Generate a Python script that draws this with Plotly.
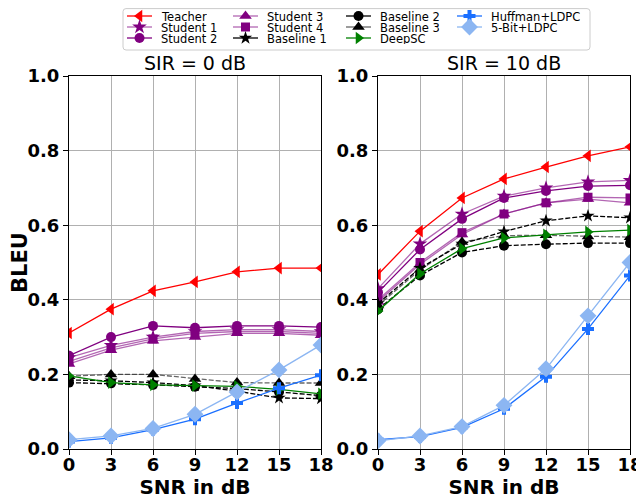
import plotly.graph_objects as go

# ---------------- data ----------------
snr = [0, 3, 6, 9, 12, 15, 18]
names = ["Teacher", "Student 1", "Student 2", "Student 3", "Student 4",
         "Baseline 1", "Baseline 2", "Baseline 3", "DeepSC",
         "Huffman+LDPC", "5-Bit+LDPC"]
x_ticks = [0, 3, 6, 9, 12, 15, 18]
y_ticks = [0.0, 0.2, 0.4, 0.6, 0.8, 1.0]
panel_titles = ["SIR = 0 dB", "SIR = 10 dB"]

# SIR = 0 dB
teacher_0 = [0.311, 0.375, 0.424, 0.448, 0.475, 0.485, 0.485]
student1_0 = [0.245, 0.278, 0.300, 0.315, 0.320, 0.320, 0.315]
student2_0 = [0.250, 0.300, 0.330, 0.325, 0.330, 0.330, 0.327]
student3_0 = [0.228, 0.265, 0.290, 0.300, 0.310, 0.310, 0.305]
student4_0 = [0.235, 0.271, 0.295, 0.310, 0.315, 0.315, 0.310]
baseline1_0 = [0.185, 0.183, 0.178, 0.170, 0.155, 0.137, 0.135]
baseline2_0 = [0.178, 0.176, 0.172, 0.167, 0.162, 0.153, 0.143]
baseline3_0 = [0.195, 0.200, 0.200, 0.188, 0.178, 0.177, 0.177]
deepsc_0 = [0.196, 0.178, 0.172, 0.170, 0.168, 0.160, 0.148]
huffman_0 = [0.020, 0.030, 0.052, 0.080, 0.123, 0.163, 0.198]
bit5_0 = [0.025, 0.035, 0.055, 0.093, 0.153, 0.212, 0.279]

# SIR = 10 dB
teacher_10 = [0.468, 0.584, 0.673, 0.724, 0.756, 0.786, 0.810]
student1_10 = [0.430, 0.550, 0.630, 0.678, 0.700, 0.716, 0.720]
student2_10 = [0.420, 0.535, 0.617, 0.673, 0.692, 0.705, 0.707]
student3_10 = [0.395, 0.495, 0.575, 0.630, 0.660, 0.670, 0.660]
student4_10 = [0.400, 0.500, 0.580, 0.630, 0.660, 0.675, 0.673]
baseline1_10 = [0.390, 0.485, 0.550, 0.583, 0.612, 0.625, 0.620]
baseline2_10 = [0.375, 0.465, 0.527, 0.545, 0.549, 0.552, 0.552]
baseline3_10 = [0.385, 0.480, 0.555, 0.572, 0.573, 0.570, 0.568]
deepsc_10 = [0.370, 0.470, 0.537, 0.566, 0.574, 0.582, 0.587]
huffman_10 = [0.025, 0.033, 0.058, 0.108, 0.194, 0.322, 0.465]
bit5_10 = [0.022, 0.035, 0.060, 0.117, 0.215, 0.357, 0.500]

series_0 = [teacher_0, student1_0, student2_0, student3_0, student4_0,
            baseline1_0, baseline2_0, baseline3_0, deepsc_0, huffman_0, bit5_0]
series_10 = [teacher_10, student1_10, student2_10, student3_10, student4_10,
             baseline1_10, baseline2_10, baseline3_10, deepsc_10, huffman_10, bit5_10]

# ---------------- styles ----------------
PURPLE = "#800080"
styles = {
    "Teacher":      dict(mc="#ff0000", lc="#ff0000", sym="triangle-left", ms=11, dash="solid"),
    "Student 1":    dict(mc=PURPLE, lc="rgba(128,0,128,0.6)", sym="star", ms=11, dash="solid"),
    "Student 2":    dict(mc=PURPLE, lc=PURPLE, sym="circle", ms=10, dash="solid"),
    "Student 3":    dict(mc=PURPLE, lc="rgba(128,0,128,0.6)", sym="triangle-up", ms=11, dash="solid"),
    "Student 4":    dict(mc=PURPLE, lc="rgba(128,0,128,0.6)", sym="square", ms=9, dash="solid"),
    "Baseline 1":   dict(mc="#000000", lc="#000000", sym="star", ms=10, dash="5px,2px"),
    "Baseline 2":   dict(mc="#000000", lc="#000000", sym="circle", ms=10, dash="5px,2px"),
    "Baseline 3":   dict(mc="#000000", lc="rgba(0,0,0,0.6)", sym="triangle-up", ms=11, dash="5px,2px"),
    "DeepSC":       dict(mc="#008000", lc="#008000", sym="triangle-right", ms=11, dash="solid"),
    "Huffman+LDPC": dict(mc="#1a6fff", lc="#1a6fff", sym="cross", ms=10, dash="solid"),
    "5-Bit+LDPC":   dict(mc="#8cb6f2", lc="#8cb6f2", sym="diamond", ms=13, dash="solid"),
}

FONT = "DejaVu Sans"
W, H = 644, 499
# figure is drawn 8px right/down of the page origin (body margin)
ML, MR, MT, MB = 61, 22, 0, 58
pw = W - ML - MR
ph = H - MT - MB
left_dom = [0, (313 - ML) / pw]
right_dom = [(370 - ML) / pw, 1]
plot_top = (H - MB - 68) / ph
leg_bottom_px = 46
leg_dom = [(H - MB - leg_bottom_px) / ph, 1]

fig = go.Figure()

for series, xa, ya in [(series_0, "x", "y"), (series_10, "x2", "y2")]:
    for name, vals in zip(names, series):
        s = styles[name]
        fig.add_trace(go.Scatter(
            x=snr, y=vals, mode="lines+markers", name=name, showlegend=False,
            xaxis=xa, yaxis=ya,
            line=dict(color=s["lc"], width=1.3, dash=s["dash"]),
            marker=dict(color=s["mc"], symbol=s["sym"], size=s["ms"], line=dict(width=0)),
        ))

# ---------------- manual legend (in pixel-like legend axis) ----------------
col_x = [119, 225, 338, 449]
row_y = [8, 19, 30]
key_len = 25
for i, name in enumerate(names):
    s = styles[name]
    cx = col_x[i // 3]
    ry = row_y[i % 3]
    fig.add_trace(go.Scatter(
        x=[cx, cx + key_len], y=[ry, ry], mode="lines", showlegend=False,
        xaxis="x3", yaxis="y3", hoverinfo="skip", cliponaxis=False,
        line=dict(color=s["lc"], width=1.3),
    ))
    fig.add_trace(go.Scatter(
        x=[cx + key_len / 2], y=[ry], mode="markers", showlegend=False,
        xaxis="x3", yaxis="y3", hoverinfo="skip", cliponaxis=False,
        marker=dict(color=s["mc"], symbol=s["sym"], size=s["ms"], line=dict(width=0)),
    ))
    fig.add_annotation(
        x=cx + key_len + 8, y=ry, xref="x3", yref="y3", text=name, showarrow=False,
        xanchor="left", yanchor="middle", height=11, borderpad=0,
        font=dict(family=FONT, size=11.5, color="#000000"),
    )

fig.add_shape(type="path", xref="x3", yref="y3",
              path="M 118,0.6 L 579,0.6 Q 582,0.6 582,3.6 L 582,39 Q 582,42 579,42 L 118,42 Q 115,42 115,39 L 115,3.6 Q 115,0.6 118,0.6 Z",
              line=dict(color="#cccccc", width=1), fillcolor="rgba(255,255,255,0.8)", layer="below")

# ---------------- panel titles ----------------
for dom, title in zip([left_dom, right_dom], panel_titles):
    fig.add_annotation(x=(dom[0] + dom[1]) / 2, y=plot_top, xref="paper", yref="paper",
                       text=title, showarrow=False, xanchor="center", yanchor="bottom",
                       yshift=0, font=dict(family=FONT, size=19, color="#000000"))

axis_common = dict(
    showline=True, linecolor="#000000", linewidth=1, mirror=True,
    ticks="outside", ticklen=5, tickwidth=1, tickcolor="#000000",
    showgrid=True, gridcolor="#b0b0b0", gridwidth=0.8, zeroline=False,
    automargin=False,
    tickfont=dict(family=FONT, size=18, color="#000000", weight="bold"),
)
xcommon = dict(axis_common, range=[0, 18], tickvals=x_ticks, ticklabelstandoff=-6,
               title=dict(text="<b>SNR in dB</b>", font=dict(family=FONT, size=20, color="#000000"), standoff=2))
ycommon = dict(axis_common, range=[0, 1], tickvals=y_ticks, tickformat=".1f")

fig.update_layout(
    width=W, height=H,
    margin=dict(l=ML, r=MR, t=MT, b=MB, pad=0, autoexpand=False),
    paper_bgcolor="white", plot_bgcolor="white",
    font=dict(family=FONT, color="#000000"),
    showlegend=False,
    xaxis=dict(xcommon, domain=left_dom, anchor="y"),
    yaxis=dict(ycommon, domain=[0, plot_top], anchor="x",
               title=dict(text="<b>BLEU</b>", font=dict(family=FONT, size=21, color="#000000"), standoff=2)),
    xaxis2=dict(xcommon, domain=right_dom, anchor="y2"),
    yaxis2=dict(ycommon, domain=[0, plot_top], anchor="x2"),
    xaxis3=dict(domain=[0, 1], range=[ML, W - MR], visible=False, fixedrange=True, anchor="y3", automargin=False),
    yaxis3=dict(domain=leg_dom, range=[leg_bottom_px, 0], visible=False, fixedrange=True, anchor="x3", automargin=False),
)

fig.write_html("out.html", config={"displayModeBar": False})
